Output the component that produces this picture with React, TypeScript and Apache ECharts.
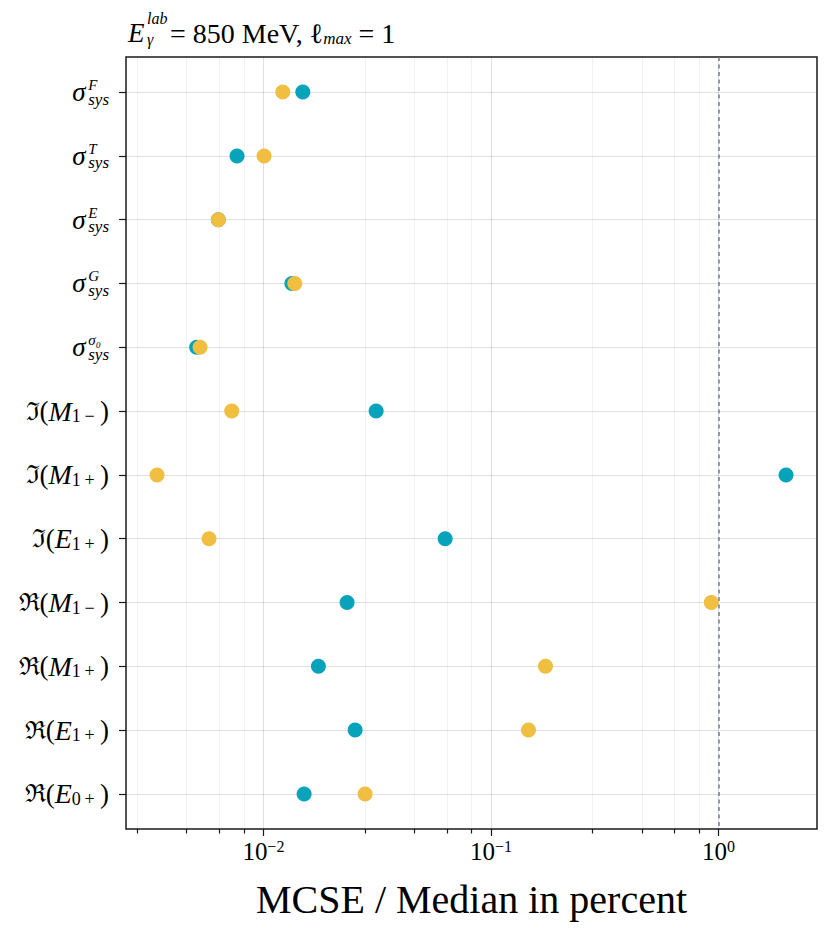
import React, { useEffect, useRef } from 'react';
import * as echarts from 'echarts';

// ---- data ----
const CATEGORIES = [
  'σ_sys^F',
  'σ_sys^T',
  'σ_sys^E',
  'σ_sys^G',
  'σ_sys^σ0',
  'ℑ(M_1−)',
  'ℑ(M_1+)',
  'ℑ(E_1+)',
  'ℜ(M_1−)',
  'ℜ(M_1+)',
  'ℜ(E_1+)',
  'ℜ(E_0+)',
];
const TEAL_VALUES = [0.0149, 0.00766, 0.00634, 0.01334, 0.00509, 0.03129, 1.979, 0.0629, 0.02332, 0.01745, 0.0253, 0.0151];
const YELLOW_VALUES = [0.01217, 0.01007, 0.00634, 0.01374, 0.00527, 0.00726, 0.00341, 0.00577, 0.9288, 0.1736, 0.1462, 0.02799];
const MAJOR_TICKS = [0.01, 0.1, 1];
const MINOR_TICKS = [0.0028, 0.0046, 0.0064, 0.0082, 0.028, 0.046, 0.064, 0.082, 0.28, 0.46, 0.64, 0.82];
const X_MIN = 0.002491;
const X_MAX = 2.707;
const Y_MIN = -0.55;
const Y_MAX = 11.55;
const REFERENCE_LINE = 1;
const TITLE_PARTS = ['E', 'lab', 'γ', '= 850 MeV, ', 'ℓ', 'max', ' = 1'];
const X_NAME = 'MCSE / Median in percent';

const FONT = "'Liberation Serif', 'DejaVu Serif', serif";
const TEAL = '#06a3bb';
const YELLOW = '#f0be40';

function categoryLabel(s: string): string {
  let m = s.match(/^σ_sys\^(.+)$/);
  if (m) {
    const sup = m[1] === 'σ0' ? 'σ₀' : m[1];
    return `{l1| }{sup|${sup}}\n{sg|σ}\n{l3| }{sub|sys}`;
  }
  m = s.match(/^(.)\((.)_(\d)(.)\)$/);
  if (m) {
    return `{fr|${m[1]}}{pr|(}{it|${m[2]}}{sb|${m[3]}\u2009${m[4]}}{pr|\u2009)}`;
  }
  return s;
}

function tickLabel(v: number): string {
  const e = Math.round(Math.log10(v));
  return `{b|10}{e|${e < 0 ? '−' : ''}${Math.abs(e)}}`;
}

export default function App() {
  const ref = useRef<HTMLDivElement>(null);
  useEffect(() => {
    document.body.style.margin = '0';
    const chart = echarts.init(ref.current!, null, { renderer: 'svg' });
    const idx = CATEGORIES.map((_, i) => i);
    const option: any = {
      animation: false,
      backgroundColor: '#ffffff',
      title: {
        left: 128,
        top: 17,
        padding: 0,
        text: `{tsp| }{tlab|${TITLE_PARTS[1]}}\n{tE|${TITLE_PARTS[0]}}{tg|${TITLE_PARTS[2]}}{tt|${TITLE_PARTS[3]}}{tl|${TITLE_PARTS[4]}}{tm|${TITLE_PARTS[5]}}{tt|${TITLE_PARTS[6]}}`,
        textStyle: {
          fontFamily: FONT,
          fontSize: 28,
          fontWeight: 'normal',
          color: '#000',
          rich: {
            tsp: { width: 19, lineHeight: 2, fontSize: 16, align: 'left' },
            tlab: { fontSize: 16, fontStyle: 'italic', lineHeight: 2, fontFamily: FONT, align: 'left' },
            tE: { fontSize: 27, fontStyle: 'italic', width: 19, lineHeight: 28, fontFamily: FONT, align: 'left' },
            tg: { fontSize: 16, fontStyle: 'italic', width: 23, lineHeight: 24, verticalAlign: 'bottom', fontFamily: FONT, align: 'left' },
            tt: { fontSize: 28, lineHeight: 28, fontFamily: FONT, align: 'left' },
            tl: { fontSize: 28, lineHeight: 28, fontFamily: FONT, align: 'left' },
            tm: { fontSize: 17, fontStyle: 'italic', lineHeight: 12, verticalAlign: 'bottom', fontFamily: FONT, align: 'left' },
          },
        },
      },
      grid: {
        left: 126,
        top: 57,
        width: 691,
        height: 772,
        show: true,
        borderColor: '#1a1a1a',
        borderWidth: 1.5,
        backgroundColor: 'transparent',
      },
      xAxis: [
        {
          type: 'log',
          logBase: 10,
          min: X_MIN,
          max: X_MAX,
          position: 'bottom',
          axisLine: { show: false, onZero: false },
          axisTick: { show: true, customValues: MAJOR_TICKS, length: 7, lineStyle: { color: '#1a1a1a', width: 1.2 } },
          axisLabel: {
            customValues: MAJOR_TICKS,
            formatter: (v: number) => tickLabel(v),
            margin: 9,
            color: '#000',
            fontFamily: FONT,
            rich: {
              b: { fontSize: 25, lineHeight: 27, fontFamily: FONT, color: '#000' },
              e: { fontSize: 16, lineHeight: 15, verticalAlign: 'top', fontFamily: FONT, color: '#000' },
            },
          },
          splitLine: { show: true, lineStyle: { color: 'rgba(0,0,0,0.12)', width: 1 } },
          minorTick: { show: false },
          name: X_NAME,
          nameLocation: 'middle',
          nameGap: 50,
          nameTextStyle: { fontSize: 40, fontFamily: FONT, color: '#000' },
        },
        {
          type: 'log',
          logBase: 10,
          min: X_MIN,
          max: X_MAX,
          position: 'bottom',
          axisLine: { show: false, onZero: false },
          axisTick: { show: true, customValues: MINOR_TICKS, length: 4.5, lineStyle: { color: '#1a1a1a', width: 1.2 } },
          axisLabel: { show: false },
          splitLine: { show: true, lineStyle: { color: 'rgba(0,0,0,0.05)', width: 1 } },
        },
      ],
      yAxis: {
        type: 'value',
        min: Y_MIN,
        max: Y_MAX,
        inverse: true,
        axisLine: { show: false, onZero: false },
        axisTick: { show: true, customValues: idx, length: 7, lineStyle: { color: '#1a1a1a', width: 1.2 } },
        axisLabel: {
          customValues: idx,
          formatter: (v: number) => categoryLabel(CATEGORIES[Math.round(v)]),
          margin: 17,
          color: '#000',
          fontFamily: FONT,
          rich: {
            l1: { width: 16, lineHeight: 6, fontSize: 15, align: 'left' },
            sup: { fontSize: 15, fontStyle: 'italic', lineHeight: 6, fontFamily: FONT, color: '#000', align: 'left' },
            sg: { fontSize: 27, fontStyle: 'italic', width: 16, lineHeight: 8, fontFamily: FONT, color: '#000', align: 'left' },
            l3: { width: 16, lineHeight: 6, fontSize: 17, align: 'left' },
            sub: { fontSize: 17, fontStyle: 'italic', lineHeight: 6, fontFamily: FONT, color: '#000', align: 'left' },
            fr: { fontSize: 25, lineHeight: 28, fontFamily: "'DejaVu Serif', serif", color: '#000' },
            pr: { fontSize: 27, lineHeight: 28, fontFamily: FONT, color: '#000' },
            it: { fontSize: 28, fontStyle: 'italic', lineHeight: 28, fontFamily: FONT, color: '#000' },
            sb: { fontSize: 18, lineHeight: 20, verticalAlign: 'bottom', fontFamily: FONT, color: '#000' },
          },
        },
        splitLine: { show: true, lineStyle: { color: 'rgba(0,0,0,0.12)', width: 1 } },
      },
      series: [
        {
          name: 'teal',
          type: 'scatter',
          xAxisIndex: 0,
          symbol: 'circle',
          symbolSize: 15,
          itemStyle: { color: TEAL, opacity: 1 },
          data: TEAL_VALUES.map((v, i) => [v, i]),
          markLine: {
            silent: true,
            symbol: ['none', 'none'],
            label: { show: false },
            lineStyle: { type: [4, 3.5], color: '#6e7d91', width: 1.5 },
            data: [{ xAxis: REFERENCE_LINE }],
          },
        },
        {
          name: 'yellow',
          type: 'scatter',
          xAxisIndex: 0,
          symbol: 'circle',
          symbolSize: 15,
          itemStyle: { color: YELLOW, opacity: 1 },
          data: YELLOW_VALUES.map((v, i) => [v, i]),
        },
      ],
    };
    chart.setOption(option);
    return () => chart.dispose();
  }, []);
  return <div ref={ref} style={{ width: 834, height: 938 }} />;
}
